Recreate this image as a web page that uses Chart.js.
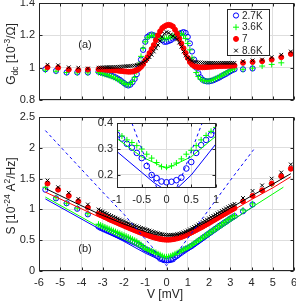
<!DOCTYPE html>
<html>
<head>
<meta charset="utf-8">
<script src="https://cdn.jsdelivr.net/npm/chart.js@4.4.1/dist/chart.umd.min.js"></script>
<style>
body { margin: 0; background: #fff; font-family: 'Liberation Sans', Arial, sans-serif; color: #262626; }
#wrap { position: relative; width: 296px; height: 301px; overflow: hidden; }
canvas { position: absolute; }
.lbl { position: absolute; white-space: nowrap; font-size: 12px; line-height: 14px; transform: translate(-50%, -50%); }
.rot { transform: translate(-50%, -50%) rotate(-90deg); }
sub, sup { font-size: 8.5px; line-height: 0; }
</style>
</head>
<body>
<div id="wrap">
  <canvas id="ga" width="296" height="104" style="left:0;top:0"></canvas>
  <canvas id="sb" width="296" height="197" style="left:0;top:104px"></canvas>
  <canvas id="ins" width="128" height="92" style="left:92px;top:115px"></canvas>
  <div class="lbl rot" style="left:11px;top:54px">G<sub>dc</sub> [10<sup>-3</sup>/Ω]</div>
  <div class="lbl rot" style="left:11px;top:196px">S [10<sup>-24</sup> A<sup>2</sup>/Hz]</div>
  <div class="lbl" style="left:165px;top:294px">V [mV]</div>
  <div class="lbl" style="left:85px;top:44px;font-size:11px">(a)</div>
  <div class="lbl" style="left:85px;top:248px;font-size:11px">(b)</div>
</div>
<script>
// tick labels
var xTicks = [-6, -5, -4, -3, -2, -1, 0, 1, 2, 3, 4, 5, 6];
var gTicks = [0.8, 1, 1.2, 1.4];
var sTicks = [0, 0.5, 1, 1.5, 2, 2.5];
var insXTicks = [-1, -0.5, 0, 0.5, 1];
var insYTicks = [0.2, 0.3, 0.4];
var legendLabels = ['2.7K', '3.6K', '7', '8.6K'];

// bias points
var vDense = [-3.2,-3.1,-3,-2.9,-2.8,-2.7,-2.6,-2.5,-2.4,-2.3,-2.2,-2.1,-2,-1.9,-1.8,-1.7,-1.6,-1.5,-1.4,-1.3,
  -1.2,-1.1,-1,-0.9,-0.8,-0.7,-0.6,-0.5,-0.4,-0.3,-0.2,-0.1,0,0.1,0.2,0.3,0.4,0.5,0.6,0.7,
  0.8,0.9,1,1.1,1.2,1.3,1.4,1.5,1.6,1.7,1.8,1.9,2,2.1,2.2,2.3,2.4,2.5,2.6,2.7,2.8,2.9,3,3.1,3.2];
var vLeftBG = [-5.7, -5.2, -4.7, -4.2, -3.7];
var vLeftRK = [-5.6, -5.1, -4.6, -4.15, -3.7];
var vRight = [3.6, 4.05, 4.5, 4.95, 5.4, 5.85];

// (a) conductance
var gBlue = [0.975,0.972,0.968,0.964,0.96,0.956,0.951,0.946,0.94,0.933,
  0.925,0.915,0.905,0.895,0.89,0.895,0.91,0.93,0.96,1.0,
  1.05,1.11,1.16,1.19,1.2,1.205,1.2,1.195,1.19,1.18,
  1.17,1.16,1.16,1.165,1.17,1.18,1.19,1.2,1.21,1.215,
  1.22,1.215,1.19,1.15,1.1,1.05,1.0,0.965,0.94,0.925,
  0.918,0.915,0.915,0.918,0.922,0.928,0.934,0.94,0.948,0.955,
  0.962,0.97,0.978,0.985,0.99];
var gGreen = [0.97,0.967,0.963,0.959,0.955,0.951,0.946,0.941,0.935,0.928,
  0.92,0.912,0.903,0.897,0.895,0.9,0.915,0.94,0.975,1.02,
  1.07,1.12,1.16,1.185,1.195,1.2,1.2,1.195,1.19,1.185,
  1.18,1.18,1.18,1.185,1.19,1.195,1.2,1.205,1.21,1.21,
  1.2,1.18,1.15,1.11,1.06,1.01,0.97,0.945,0.93,0.922,
  0.918,0.917,0.918,0.921,0.926,0.932,0.938,0.945,0.952,0.96,
  0.967,0.975,0.982,0.988,0.993];
var gRed = [0.99,0.99,0.989,0.988,0.987,0.986,0.985,0.984,0.983,0.982,
  0.98,0.979,0.977,0.976,0.975,0.975,0.976,0.979,0.985,0.993,
  1.005,1.022,1.045,1.065,1.09,1.115,1.14,1.17,1.2,1.225,
  1.245,1.255,1.262,1.265,1.262,1.255,1.235,1.21,1.18,1.15,
  1.12,1.09,1.06,1.035,1.02,1.01,1.005,1.003,1.002,1.002,
  1.003,1.004,1.005,1.006,1.007,1.008,1.009,1.01,1.01,1.011,
  1.011,1.012,1.012,1.013,1.013];
var gBlack = [1.0,1.001,1.002,1.002,1.003,1.003,1.004,1.004,1.005,1.005,
  1.006,1.007,1.008,1.009,1.01,1.011,1.012,1.014,1.017,1.021,
  1.026,1.033,1.042,1.052,1.065,1.08,1.1,1.12,1.14,1.165,
  1.19,1.21,1.22,1.215,1.205,1.195,1.185,1.175,1.155,1.13,
  1.1,1.075,1.06,1.05,1.043,1.038,1.035,1.033,1.032,1.031,
  1.031,1.03,1.03,1.03,1.03,1.03,1.03,1.03,1.03,1.03,
  1.03,1.03,1.03,1.03,1.03];
var gBlueL = [0.99, 0.98, 0.97, 0.97, 0.97], gBlueR = [0.99, 0.995];
var gGreenL = [0.985, 0.978, 0.97, 0.968, 0.968], gGreenR = [0.99, 0.997, 1.01, 1.02, 1.03];
var gRedL = [1.003, 1.0, 0.988, 0.985, 0.988], gRedR = [1.03, 1.035, 1.04, 1.05, 1.065, 1.085];
var gBlackL = [1.018, 1.015, 1.002, 1.0, 0.995], gBlackR = [1.04, 1.045, 1.05, 1.065, 1.08, 1.1];

// (b) noise
var sBlue = [0.72,0.70,0.685,0.67,0.655,0.64,0.625,0.61,0.595,0.58,
  0.565,0.55,0.535,0.52,0.505,0.49,0.475,0.46,0.445,0.425,
  0.405,0.38,0.355,0.34,0.32,0.305,0.285,0.265,0.235,0.2,
  0.188,0.175,0.172,0.174,0.18,0.19,0.225,0.25,0.285,0.315,
  0.335,0.355,0.37,0.39,0.41,0.435,0.46,0.485,0.51,0.535,
  0.56,0.585,0.61,0.635,0.66,0.685,0.71,0.735,0.755,0.78,
  0.8,0.825,0.85,0.87,0.89];
var sGreen = [0.76,0.745,0.73,0.715,0.7,0.685,0.67,0.655,0.64,0.625,
  0.61,0.595,0.58,0.565,0.55,0.533,0.515,0.498,0.48,0.455,
  0.43,0.4,0.37,0.35,0.335,0.325,0.313,0.3,0.28,0.265,
  0.248,0.232,0.23,0.235,0.246,0.262,0.28,0.295,0.313,0.335,
  0.352,0.368,0.383,0.405,0.428,0.452,0.476,0.5,0.524,0.548,
  0.572,0.596,0.62,0.644,0.668,0.692,0.716,0.74,0.764,0.788,
  0.812,0.836,0.86,0.88,0.9];
var sRed = [0.93,0.91,0.895,0.875,0.86,0.84,0.825,0.81,0.795,0.78,
  0.765,0.75,0.735,0.72,0.705,0.69,0.676,0.662,0.648,0.634,
  0.62,0.607,0.594,0.582,0.57,0.558,0.547,0.537,0.528,0.52,
  0.514,0.51,0.508,0.508,0.51,0.515,0.522,0.53,0.54,0.552,
  0.566,0.58,0.596,0.613,0.63,0.648,0.666,0.684,0.702,0.72,
  0.74,0.76,0.78,0.8,0.82,0.84,0.86,0.88,0.9,0.92,
  0.94,0.96,0.98,1.0,1.02];
var sBlack = [1.0,0.98,0.965,0.945,0.93,0.91,0.895,0.88,0.865,0.85,
  0.835,0.82,0.805,0.79,0.775,0.762,0.75,0.738,0.725,0.712,
  0.7,0.69,0.68,0.668,0.656,0.645,0.635,0.625,0.615,0.605,
  0.598,0.592,0.588,0.586,0.586,0.588,0.592,0.598,0.606,0.616,
  0.628,0.642,0.658,0.676,0.695,0.715,0.735,0.755,0.775,0.795,
  0.815,0.835,0.855,0.875,0.895,0.915,0.935,0.955,0.975,0.995,
  1.015,1.035,1.055,1.072,1.09];
var sBlueL = [1.32, 1.18, 1.1, 1.01, 0.92], sBlueR = [0.97, 1.08];
var sGreenL = [1.36, 1.19, 1.1, 1.02, 0.93], sGreenR = [0.99, 1.09, 1.3, 1.41, 1.53];
var sRedL = [1.42, 1.32, 1.22, 1.13, 1.03], sRedR = [1.13, 1.22, 1.31, 1.42, 1.54, 1.66];
var sBlackL = [1.47, 1.36, 1.27, 1.17, 1.08], sBlackR = [1.185, 1.3, 1.39, 1.5, 1.6, 1.73];

// fit curves and dashed curve
var fitKV = [-5.7,-4.5,-3.2,-2,-1,-0.5,0,0.5,1,2,3,4,5,5.85];
var fitBlackS = [1.34,1.14,0.93,0.76,0.64,0.59,0.57,0.59,0.64,0.82,1.02,1.22,1.41,1.58];
var fitRedS = [1.28,1.09,0.88,0.71,0.59,0.54,0.52,0.54,0.59,0.76,0.96,1.16,1.35,1.53];
var fitGreenV = [-5.7,-4.5,-3.2,-2,-1,-0.5,0,0.5,1,2,3,4,5,5.5];
var fitGreenS = [1.2,0.97,0.72,0.52,0.34,0.27,0.225,0.27,0.35,0.57,0.8,1.03,1.25,1.36];
var fitBlueV = [-5.7,-4.5,-3.2,-2,-1,-0.5,-0.25,0,0.25,0.5,1,2,3,4.1];
var fitBlueS = [1.17,0.94,0.69,0.48,0.29,0.21,0.17,0.14,0.155,0.2,0.32,0.56,0.8,1.05];
var dashV = [-5.7,-5,-4,-3,-2,-1,-0.7,-0.5,-0.3,-0.15,0,0.15,0.3,0.5,0.7,1,2,3,4.1];
var dashS = [2.28,2.02,1.65,1.28,0.92,0.52,0.4,0.3,0.2,0.13,0.09,0.13,0.19,0.29,0.39,0.53,1.0,1.47,1.97];

var BLUE = '#0000ff', GREEN = '#00ff00', RED = '#ff0000', BLACK = '#000000';
var FONT = "'Liberation Sans', Arial, sans-serif";
var AX = '#262626', GRID = '#dedede';

function pts(xs, ys) {
  return ys.map(function (y, i) { return { x: xs[i], y: y }; });
}
function series(l, vl, d, r) {
  return pts(vl, l).concat(pts(vDense, d), pts(vRight, r));
}

var styles = [
  { c: BLUE, ps: 'circle', fill: 'rgba(0,0,0,0)', r: 2.6 },
  { c: GREEN, ps: 'cross', fill: GREEN, r: 3 },
  { c: RED, ps: 'circle', fill: RED, r: 2.5 },
  { c: BLACK, ps: 'crossRot', fill: BLACK, r: 2.6 }
];

function markers(data, k, order, r) {
  var s = styles[k];
  return {
    data: data, showLine: false, order: order,
    pointStyle: s.ps, pointRadius: r || s.r, pointBorderWidth: 1,
    pointBorderColor: s.c, pointBackgroundColor: s.fill
  };
}
function curve(data, color, order, dash) {
  return {
    data: data, showLine: true, order: order, pointRadius: 0,
    borderColor: color, borderWidth: 1, borderDash: dash || [], tension: 0
  };
}

function fixedTicks(list) {
  return function (s) { s.ticks = list.map(function (v) { return { value: v }; }); };
}
function fitW(w) {
  return function (s) { s.width = w; s.paddingTop = 0; s.paddingBottom = 0; };
}
function fitH(h) {
  return function (s) { s.height = h; s.paddingLeft = 0; s.paddingRight = 0; };
}
function axis(min, max, list, showLabels, size, horiz) {
  var o = {
    type: 'linear', min: min, max: max,
    afterBuildTicks: fixedTicks(list),
    grid: { color: GRID, drawTicks: false, lineWidth: 1 },
    border: { display: false },
    ticks: {
      display: showLabels, padding: horiz ? 5 : 4, color: AX, autoSkip: false, maxRotation: 0,
      font: { family: FONT, size: 11 },
      callback: function (v) { return String(Math.round(v * 100) / 100); }
    }
  };
  if (horiz) o.afterFit = fitH(size); else o.afterFit = fitW(size);
  return o;
}

// axes box, inward ticks and optional white background
var boxPlugin = {
  id: 'mbox',
  beforeDraw: function (chart, args, opts) {
    if (!opts.fill) return;
    var a = chart.chartArea, ctx = chart.ctx;
    ctx.save();
    ctx.fillStyle = '#fff';
    ctx.fillRect(a.left, a.top, a.right - a.left, a.bottom - a.top);
    ctx.restore();
  },
  afterDraw: function (chart) {
    var a = chart.chartArea, ctx = chart.ctx;
    var L = Math.round(a.left) + 0.5, R = Math.round(a.right) - 0.5;
    var T = Math.round(a.top) + 0.5, B = Math.round(a.bottom) - 0.5;
    ctx.save();
    ctx.strokeStyle = AX;
    ctx.lineWidth = 1;
    ctx.beginPath();
    chart.scales.x.ticks.forEach(function (t) {
      var p = Math.round(chart.scales.x.getPixelForValue(t.value)) + 0.5;
      ctx.moveTo(p, B); ctx.lineTo(p, B - 3);
      ctx.moveTo(p, T); ctx.lineTo(p, T + 3);
    });
    chart.scales.y.ticks.forEach(function (t) {
      var p = Math.round(chart.scales.y.getPixelForValue(t.value)) + 0.5;
      ctx.moveTo(L, p); ctx.lineTo(L + 3, p);
      ctx.moveTo(R, p); ctx.lineTo(R - 3, p);
    });
    ctx.stroke();
    ctx.strokeRect(L, T, R - L, B - T);
    ctx.restore();
  }
};

var legendPlugin = {
  id: 'mleg',
  afterDraw: function (chart, args, opts) {
    if (!opts.show) return;
    var ctx = chart.ctx;
    ctx.save();
    ctx.fillStyle = '#fff';
    ctx.fillRect(227.5, 9.5, 42, 46);
    ctx.strokeStyle = AX;
    ctx.lineWidth = 1;
    ctx.strokeRect(227.5, 9.5, 42, 46);
    ctx.font = '10px ' + FONT;
    ctx.textBaseline = 'middle';
    legendLabels.forEach(function (lab, i) {
      var s = styles[i], y = 15.5 + i * 11.7;
      ctx.strokeStyle = s.c;
      ctx.fillStyle = s.fill;
      ctx.lineWidth = 1;
      Chart.helpers.drawPoint(ctx, { pointStyle: s.ps, radius: s.r, borderWidth: 1, rotation: 0 }, 236, y);
      ctx.fillStyle = AX;
      ctx.fillText(lab, 242, y + 0.5);
    });
    ctx.restore();
  }
};

Chart.register(boxPlugin, legendPlugin);

function baseOptions(xs, ys, pad, legend, fill) {
  return {
    responsive: false, animation: false, devicePixelRatio: 1, events: [],
    layout: { autoPadding: false, padding: pad },
    scales: { x: xs, y: ys },
    plugins: { legend: { display: false }, tooltip: { enabled: false },
      mbox: { fill: fill }, mleg: { show: legend } }
  };
}

// panel (a)
new Chart(document.getElementById('ga'), {
  type: 'scatter',
  data: {
    datasets: [
      markers(series(gBlueL, vLeftBG, gBlue, gBlueR), 0, 4),
      markers(series(gGreenL, vLeftBG, gGreen, gGreenR), 1, 3),
      markers(series(gRedL, vLeftRK, gRed, gRedR), 2, 2),
      markers(series(gBlackL, vLeftRK, gBlack, gBlackR), 3, 1)
    ]
  },
  options: baseOptions(axis(-6, 6, xTicks, false, 4, true), axis(0.8, 1.4, gTicks, true, 39, false),
    { left: 0, right: 2, top: 3, bottom: 0 }, true, false)
});

// panel (b)
new Chart(document.getElementById('sb'), {
  type: 'scatter',
  data: {
    datasets: [
      markers(series(sBlueL, vLeftBG, sBlue, sBlueR), 0, 9),
      markers(series(sGreenL, vLeftBG, sGreen, sGreenR), 1, 8),
      markers(series(sRedL, vLeftRK, sRed, sRedR), 2, 7),
      markers(series(sBlackL, vLeftRK, sBlack, sBlackR), 3, 6),
      curve(pts(fitBlueV, fitBlueS), BLUE, 5),
      curve(pts(fitGreenV, fitGreenS), GREEN, 4),
      curve(pts(fitKV, fitRedS), RED, 3),
      curve(pts(fitKV, fitBlackS), BLACK, 2),
      curve(pts(dashV, dashS), BLUE, 1, [3, 3])
    ]
  },
  options: baseOptions(axis(-6, 6, xTicks, true, 30, true), axis(0, 2.5, sTicks, true, 39, false),
    { left: 0, right: 2, top: 13, bottom: 0 }, false, false)
});

// inset
new Chart(document.getElementById('ins'), {
  type: 'scatter',
  data: {
    datasets: [
      markers(pts(vDense, sBlue), 0, 5, 2.8),
      markers(pts(vDense, sGreen), 1, 4, 3),
      curve(pts(fitBlueV, fitBlueS), BLUE, 3),
      curve(pts(fitGreenV, fitGreenS), GREEN, 2),
      curve(pts(dashV, dashS), BLUE, 1, [3, 3])
    ]
  },
  options: baseOptions(axis(-1, 1, insXTicks, true, 19, true), axis(0.15, 0.4, insYTicks, true, 25, false),
    { left: 0, right: 4, top: 8, bottom: 0 }, false, true)
});
</script>
</body>
</html>
